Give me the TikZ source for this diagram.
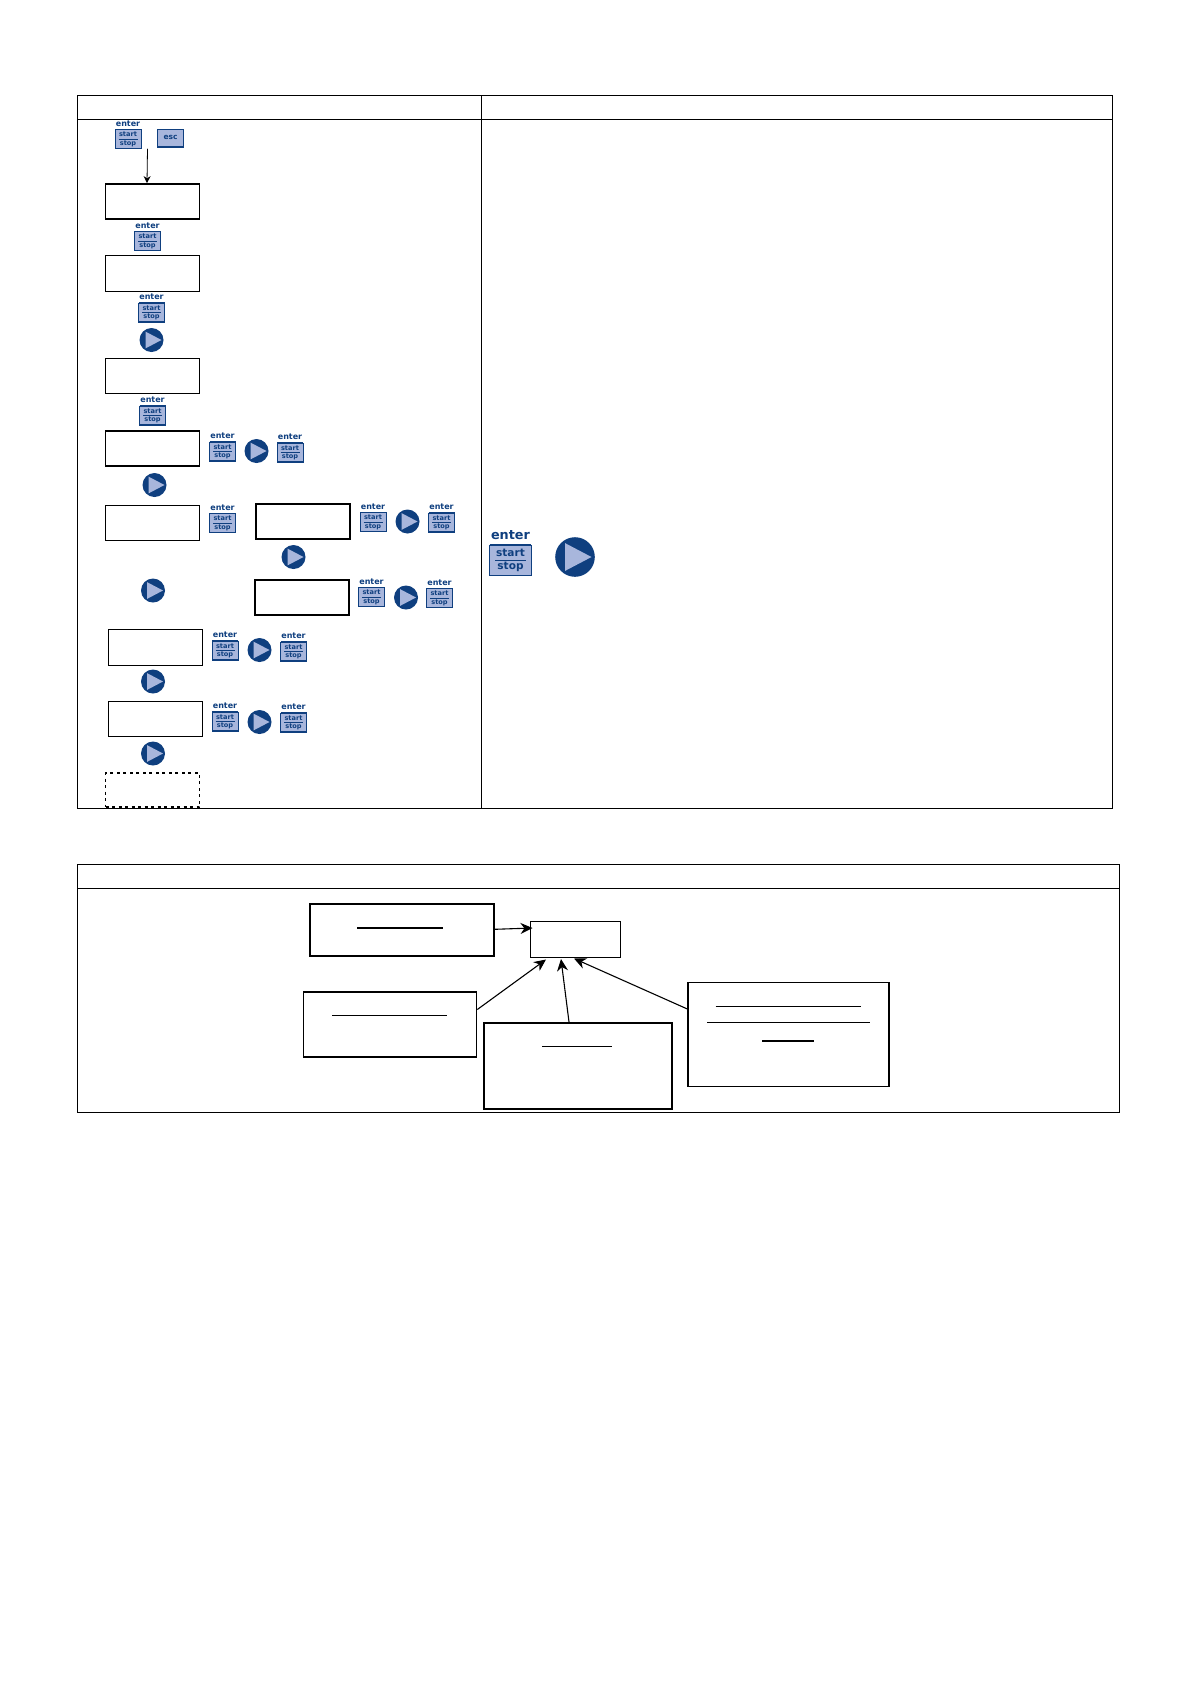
\documentclass[tikz,border=0pt]{standalone}
\usepackage{fontspec}
\setmainfont{DejaVu Sans}
\usetikzlibrary{arrows.meta}
\definecolor{KeyNavy}{HTML}{0F3F7F}
\definecolor{KeyBlue}{HTML}{A8B6DC}
\tikzset{
  tableline/.style={draw=black, line width=0.8pt},
  dispbox/.style={
    draw=black,
    line width=#1,
    fill=white,
    inner sep=0pt
  },
  dispbox/.default=1pt,
  keybody/.style={
    draw=KeyNavy,
    line width=0.5pt,
    fill=KeyBlue,
    inner sep=0pt,
    minimum width=26pt,
    minimum height=19pt
  },
  keyedge/.style={draw=KeyNavy, line width=1.5pt},
  keyrule/.style={draw=KeyNavy, line width=0.8pt},
  keytext/.style={
    font=\bfseries\fontsize{6.6}{7}\selectfont,
    text=KeyNavy,
    inner sep=0pt
  },
  entertext/.style={
    font=\bfseries\fontsize{8}{8}\selectfont,
    text=KeyNavy,
    inner sep=0pt
  },
  playdisc/.style={
    circle,
    fill=KeyNavy,
    inner sep=0pt,
    minimum size=24pt
  },
  blankrule/.style={draw=black, line width=#1},
  blankrule/.default=1pt,
  flowarrow/.style={
    -{Stealth[length=12pt,width=11pt]},
    draw=black,
    line width=1.1pt
  },
  thinarrow/.style={
    -{Stealth[length=7pt,width=7pt]},
    draw=black,
    line width=0.8pt
  }
}
\newcommand{\startkey}[3][1]{%
  \begin{scope}[shift={(#3)}, scale=#1, transform shape]
    \node[keybody] (#2) at (0,0) {};
    \draw[keyedge] (-13,-9.6) -- (13,-9.6);
    \draw[keyedge] (-13,9.6) -- (13,9.6);
    \draw[keyrule] (-9.5,0) -- (9.5,0);
    \node[keytext] (#2start) at (0,-4.6) {start};
    \node[keytext] (#2stop) at (0,4.4) {stop};
    \node[entertext] (#2enter) at (0,-15.5) {enter};
  \end{scope}
}
\newcommand{\playbutton}[3][1]{%
  \begin{scope}[shift={(#3)}, scale=#1, transform shape]
    \node[playdisc] (#2) at (0,0) {};
    \fill[KeyBlue] (-6,-8.4) -- (10,0) -- (-6,8.4) -- cycle;
  \end{scope}
}

\begin{document}
\begin{tikzpicture}[x=1pt,y=-1pt]
\useasboundingbox (0,0) rectangle (1190,1684);

% Upper table.
\draw[tableline] (77,95) rectangle (1112.5,808);
\draw[tableline] (77,119) -- (1112.5,119);
\draw[tableline] (481,95) -- (481,808);

% Lower table.
\draw[tableline] (77,864.5) rectangle (1119,1112);
\draw[tableline] (77,888) -- (1119,888);

% Display boxes, left column.
\node[dispbox=1.8pt, minimum width=94pt, minimum height=35pt] (dispone) at (152.5,201.5) {};
\node[dispbox=1pt, minimum width=94pt, minimum height=36pt] (disptwo) at (152.5,273) {};
\node[dispbox=1pt, minimum width=94pt, minimum height=35pt] (dispthree) at (152.5,375.5) {};
\node[dispbox=1.8pt, minimum width=94pt, minimum height=35pt] (dispfour) at (152.5,448.5) {};
\node[dispbox=1pt, minimum width=94pt, minimum height=35pt] (dispfive) at (152.5,522.5) {};
\node[dispbox=0.8pt, minimum width=94pt, minimum height=36pt] (dispsix) at (155,647) {};
\node[dispbox=1pt, minimum width=94pt, minimum height=35pt] (dispseven) at (155,718.5) {};
\node[dispbox=1.5pt, dash pattern=on 3pt off 3.5pt, minimum width=94pt, minimum height=34pt] (dispend) at (152.5,790) {};

% Display boxes, side branch.
\node[dispbox=1.2pt, minimum width=94pt, minimum height=35pt] (dispupper) at (303,521.5) {};
\node[dispbox=1.2pt, minimum width=94pt, minimum height=35pt] (displower) at (302,597.5) {};

% Keys at the head of the column.
\startkey{keyfirst}{128,139}
\node[keybody, minimum height=18pt] (keyesc) at (170.5,138) {};
\draw[keyedge] (157.5,147) -- (183.5,147);
\node[keytext, font=\bfseries\fontsize{7.5}{8}\selectfont] (keyesctext) at (170.5,137.5) {esc};

\startkey{keytwo}{147.5,241}
\startkey{keythree}{151.5,312.5}
\playbutton{playthree}{151.5,340}
\startkey{keyfour}{152.5,415.5}

% Row of the fourth display.
\startkey{keyrowa}{222.5,451.5}
\playbutton{playrowa}{256.5,451}
\startkey{keyrowb}{290,452.5}
\playbutton{playfour}{154.5,485}

% Row of the fifth display.
\startkey{keyrowc}{222.5,523}
\startkey{keyrowd}{373,522}
\playbutton{playrowd}{407.5,521.5}
\startkey{keyrowe}{441.5,522.5}
\playbutton{playupper}{293.5,557}
\playbutton{playfive}{153,590.5}

% Row of the lower branch display.
\startkey{keyrowf}{371.5,597}
\playbutton{playrowf}{406,597.5}
\startkey{keyrowg}{439.5,598}

% Rows of the last displays.
\startkey{keyrowh}{225,650.5}
\playbutton{playrowh}{259.5,650}
\startkey{keyrowi}{293.5,651.5}
\playbutton{playsix}{153,681.5}
\startkey{keyrowj}{225,721.5}
\playbutton{playrowj}{259.5,722}
\startkey{keyrowk}{293.5,722.5}
\playbutton{playseven}{153,753.5}

% Large key legend.
\startkey[1.6]{keylegend}{510.5,560}
\playbutton[1.65]{playlegend}{575,557}

% Lower table boxes.
\node[dispbox=1.3pt, minimum width=184pt, minimum height=52pt] (noteleft) at (402,930) {};
\node[dispbox=1pt, minimum width=90pt, minimum height=36pt] (target) at (575,939) {};
\node[dispbox=1.6pt, minimum width=173pt, minimum height=65pt] (notelow) at (390,1024.5) {};
\node[dispbox=1.6pt, minimum width=188pt, minimum height=86.5pt] (notemid) at (578,1066) {};
\node[dispbox=1.2pt, minimum width=201pt, minimum height=103.5pt] (noteright) at (788.5,1034.5) {};

% Rules standing for the printed lines.
\draw[blankrule=1.6pt] (357,928) -- (443,928);
\draw[blankrule=0.7pt] (332,1015) -- (447,1015);
\draw[blankrule=0.7pt] (542,1046) -- (612,1046);
\draw[blankrule=0.7pt] (715.5,1006.5) -- (860.5,1006.5);
\draw[blankrule=1.6pt] (707,1022.5) -- (870,1022.5);
\draw[blankrule=1.4pt] (762,1041) -- (814,1041);

% Arrows.
\draw[thinarrow] ([xshift=19.5pt]keyfirst.south) -- ([xshift=-5.5pt]dispone.north);
\draw[flowarrow] ([yshift=0.7pt]noteleft.east) -- ([xshift=3pt,yshift=11pt]target.west);
\draw[flowarrow] ([yshift=15pt]notelow.east) -- ([xshift=-29pt,yshift=-2pt]target.south);
\draw[flowarrow] ([xshift=-9pt]notemid.north) -- ([xshift=-14pt,yshift=-1.5pt]target.south);
\draw[flowarrow] ([yshift=25.5pt]noteright.west) -- ([xshift=-1pt,yshift=-1pt]target.south);

\end{tikzpicture}
\end{document}
